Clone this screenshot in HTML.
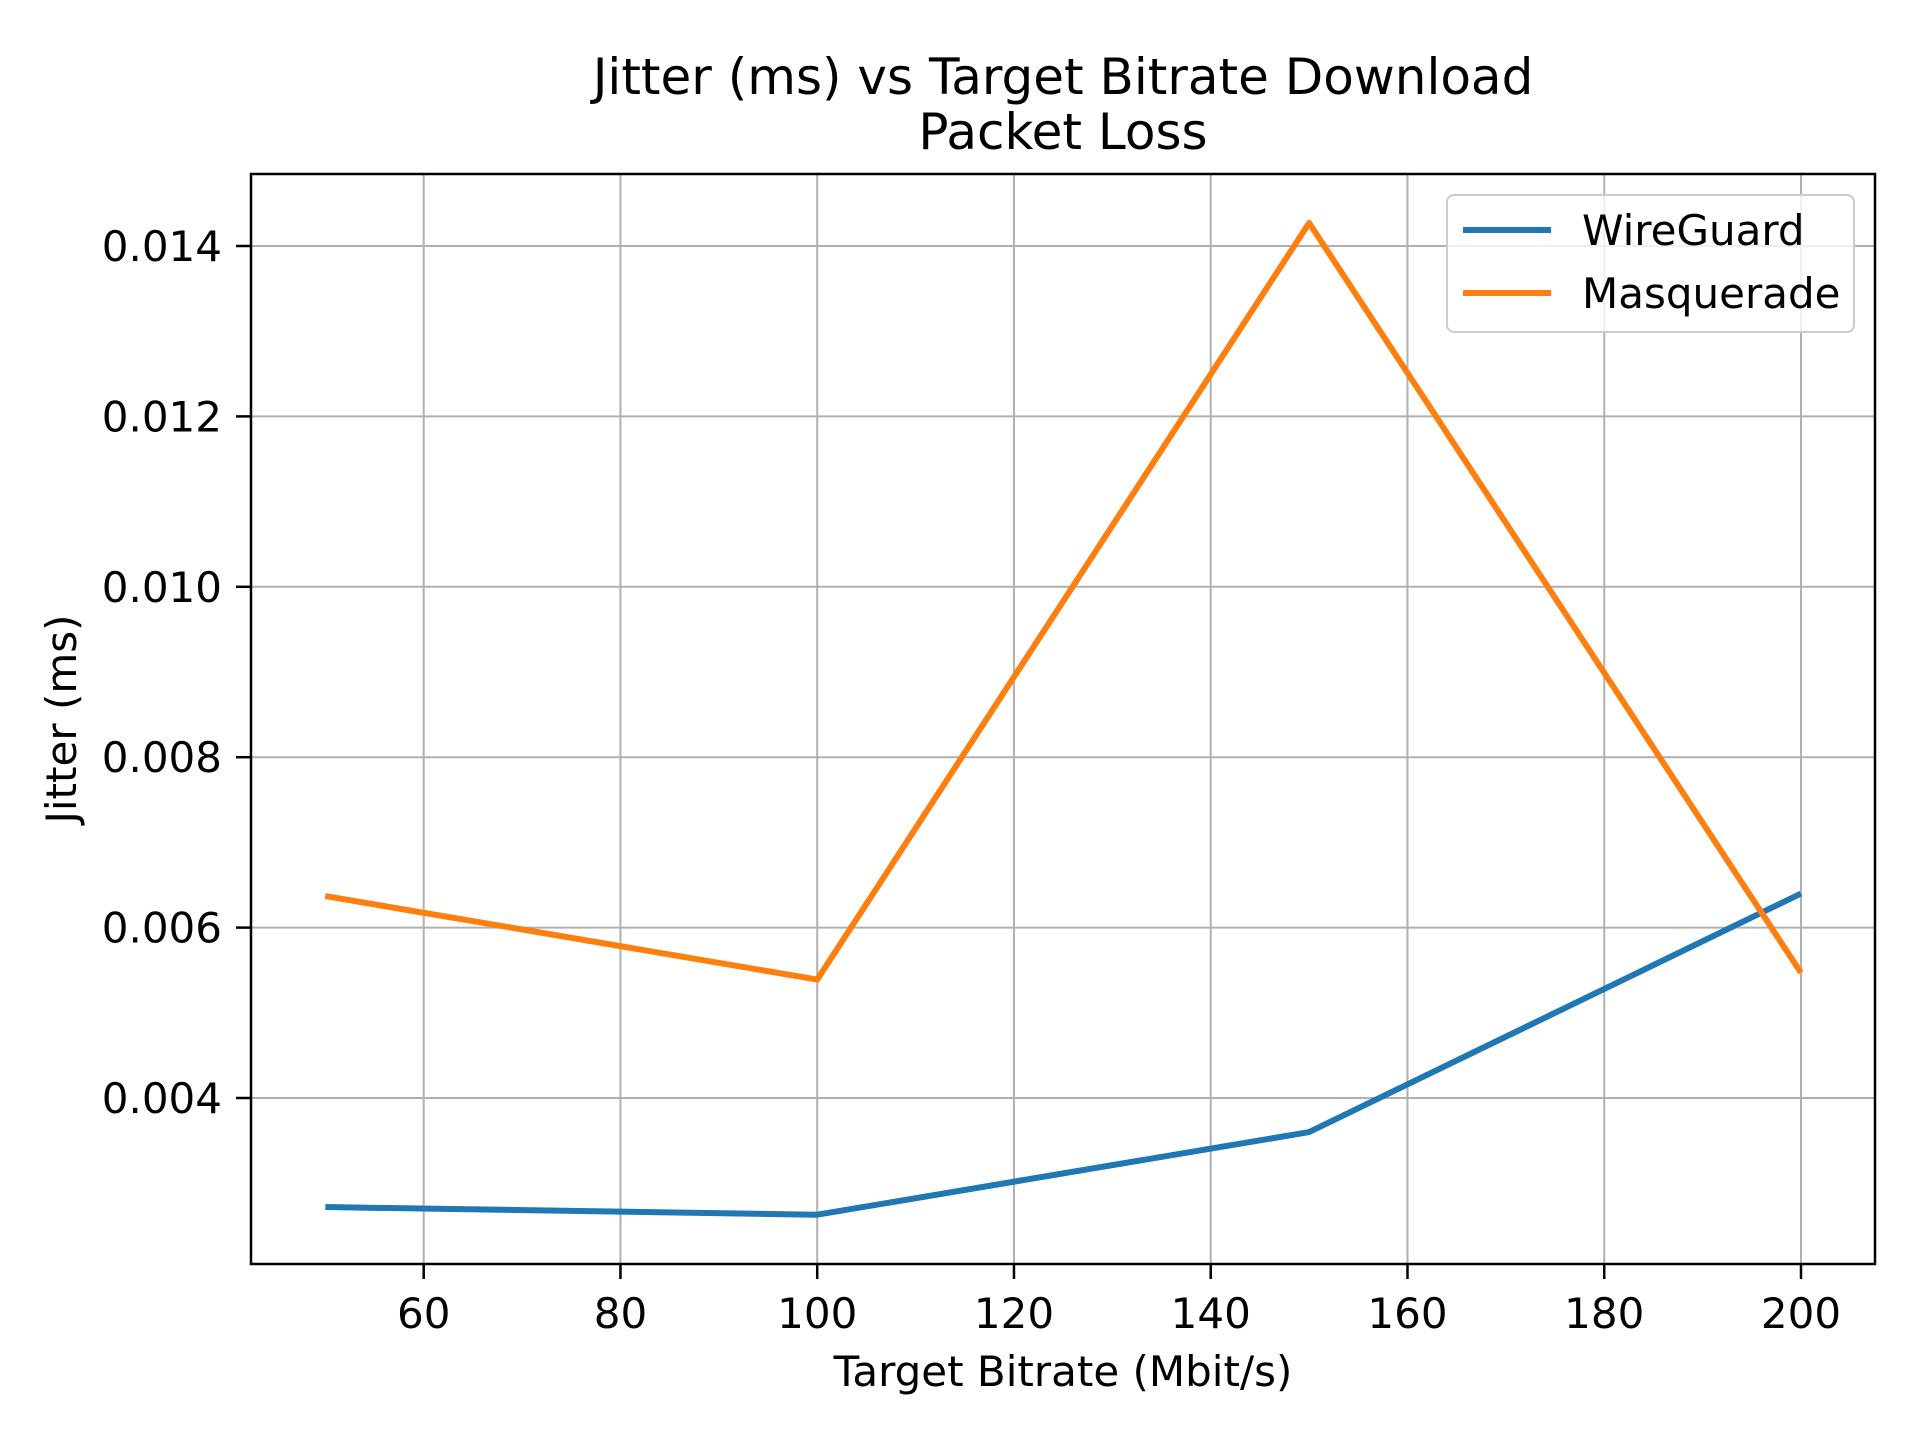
<!DOCTYPE html>
<html><head><meta charset="utf-8"><style>body{margin:0;background:#fff}svg{display:block}text{font-family:"DejaVu Sans","Liberation Sans",sans-serif;fill:#000}</style></head>
<body>
<svg id="chart" width="1920" height="1440" viewBox="0 0 1920 1440" xmlns="http://www.w3.org/2000/svg">
<g id="grid"></g>
<g id="series"></g>
<rect x="251" y="174" width="1624" height="1090" fill="none" stroke="#000" stroke-width="2.5"/>
<g id="ticks"></g>
<text x="1063" y="94" font-size="50" text-anchor="middle">Jitter (ms) vs Target Bitrate Download</text>
<text x="1063" y="149" font-size="50" text-anchor="middle">Packet Loss</text>
<text x="1063" y="1386" font-size="42" text-anchor="middle">Target Bitrate (Mbit/s)</text>
<text transform="translate(76,719) rotate(-90)" font-size="42" text-anchor="middle">Jitter (ms)</text>
<g>
<rect x="1447" y="195" width="407" height="137" rx="7" fill="#fff" fill-opacity="0.8" stroke="#ccc" stroke-width="2"/>
<line x1="1463" y1="230" x2="1551" y2="230" stroke="#1f77b4" stroke-width="6"/>
<text x="1582" y="245" font-size="42">WireGuard</text>
<line x1="1463" y1="293" x2="1551" y2="293" stroke="#ff7f0e" stroke-width="6"/>
<text x="1582" y="308" font-size="42">Masquerade</text>
</g>
</svg>
<script>
const categories=[50,100,150,200];
const wireguard=[0.00272,0.00263,0.0036,0.0064];
const masquerade=[0.00637,0.00539,0.01427,0.00547];
const xTicks=[60,80,100,120,140,160,180,200];
const yTicks=[0.004,0.006,0.008,0.010,0.012,0.014];
const NS="http://www.w3.org/2000/svg";
function xs(v){return 423.7+(v-60)*(1801-423.7)/140;}
function ys(v){return 1098-(v-0.004)*(1098-246)/0.010;}
const grid=document.getElementById('grid'),ticks=document.getElementById('ticks'),series=document.getElementById('series');
function mk(t,a,p){const e=document.createElementNS(NS,t);for(const k in a)e.setAttribute(k,a[k]);p.appendChild(e);return e;}
xTicks.forEach(v=>{const x=xs(v);
const g=mk('line',{x1:x,x2:x,y1:174,y2:1264,stroke:'#b0b0b0','stroke-width':2},grid);


const t=mk('line',{x1:x,x2:x,y1:1264,y2:1279,stroke:'#000','stroke-width':2.5},ticks);


const l=mk('text',{x:x,y:1328,'font-size':42,'text-anchor':'middle'},ticks);l.textContent=v;

});
yTicks.forEach(v=>{const y=ys(v);
const g=mk('line',{x1:251,x2:1875,y1:y,y2:y,stroke:'#b0b0b0','stroke-width':2},grid);


const t=mk('line',{x1:236,x2:251,y1:y,y2:y,stroke:'#000','stroke-width':2.5},ticks);


const l=mk('text',{x:222,y:y+15,'font-size':42,'text-anchor':'end'},ticks);l.textContent=v.toFixed(3);

});
function line(vals,color,name){const p=mk('polyline',{points:categories.map((c,i)=>xs(c)+','+ys(vals[i])).join(' '),fill:'none',stroke:color,'stroke-width':6,'stroke-linejoin':'round'},series);

}
line(wireguard,'#1f77b4','wireguard-line');
line(masquerade,'#ff7f0e','masquerade-line');
</script>
</body></html>
